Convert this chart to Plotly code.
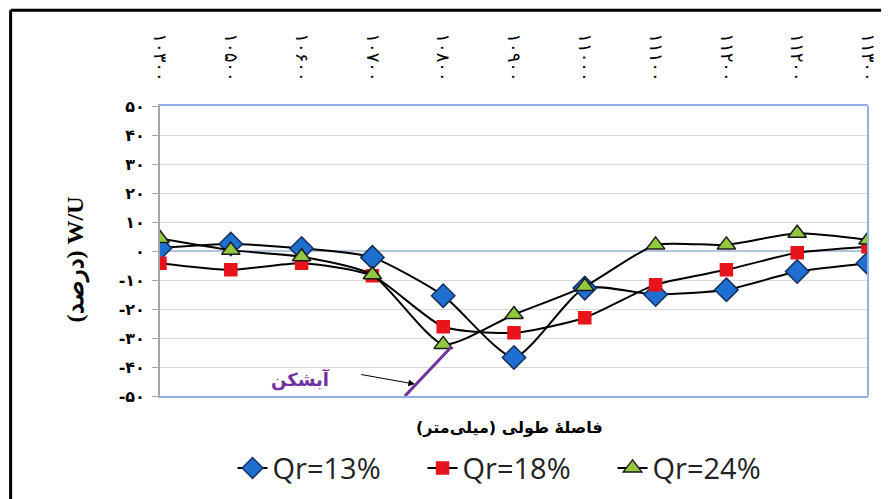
import plotly.graph_objects as go

# longitudinal distance labels (mm)
distance_labels = ["۱۰۳۰۰", "۱۰۵۰۰", "۱۰۶۰۰", "۱۰۷۰۰", "۱۰۸۰۰", "۱۰۹۰۰",
                   "۱۱۰۰۰", "۱۱۱۰۰", "۱۱۲۰۰", "۱۱۲۰۰", "۱۱۳۰۰"]

# W/U in percent for each Qr
qr13 = [1.0, 2.4, 0.9, -2.2, -15.4, -36.7, -12.8, -15.0, -13.4, -7.1, -4.2]
qr18 = [-4.2, -6.5, -4.2, -8.5, -26.1, -28.2, -23.0, -11.6, -6.5, -0.6, 1.5]
qr24 = [4.3, 0.3, -2.0, -8.2, -32.2, -21.9, -12.2, 2.1, 2.1, 6.1, 3.8]

y_ticks = [50, 40, 30, 20, 10, 0, -10, -20, -30, -40, -50]
y_ticktext = ["۵۰", "۴۰", "۳۰", "۲۰", "۱۰", "۰", "-۱۰", "-۲۰", "-۳۰", "-۴۰", "-۵۰"]

x = list(range(len(distance_labels)))

series = [
    ("Qr=13%", qr13, "diamond", 18, "#1f6fd1", "#14305e"),
    ("Qr=18%", qr18, "square", 12, "#e8141b", "#e8141b"),
    ("Qr=24%", qr24, "triangle-up", 16, "#92c83e", "#1a1a1a"),
]

fig = go.Figure()
for name, vals, sym, size, col, edge in series:
    fig.add_trace(go.Scatter(
        x=x, y=vals, name=name, mode="lines+markers",
        line=dict(color="black", width=2, shape="spline", smoothing=0.6),
        marker=dict(symbol=sym, size=size, color=col, line=dict(color=edge, width=1.5)),
    ))

# the page body has an 8px margin, so the figure is a bit smaller than the window
fig.update_layout(
    width=881, height=491,
    margin=dict(l=152, r=21, t=98, b=103),
    paper_bgcolor="white", plot_bgcolor="white",
    showlegend=True,
    legend=dict(orientation="h", xref="paper", x=0.505, xanchor="center",
                yref="container", y=0.063, yanchor="middle",
                entrywidth=145, entrywidthmode="pixels",
                font=dict(family="Open Sans, Liberation Sans", size=29, color="#222")),
    xaxis=dict(
        range=[0, 10], side="top", tickmode="array", tickvals=x, ticktext=distance_labels,
        tickangle=90, ticks="", ticklabelstandoff=16, automargin=False,
        tickfont=dict(family="DejaVu Sans", size=18, color="black"),
        showgrid=False, zeroline=False,
        showline=True, mirror=True, linecolor="#8db3e2", linewidth=2,
    ),
    yaxis=dict(
        range=[-50, 50], tickmode="array", tickvals=y_ticks, ticktext=y_ticktext,
        tickfont=dict(family="DejaVu Sans", size=16, color="black", weight="bold"),
        ticks="outside", ticklen=6, tickcolor="#a6a6a6", ticklabelstandoff=4, automargin=False,
        showgrid=True, gridcolor="#d9d9d9", gridwidth=1,
        showline=True, linecolor="#a6a6a6", linewidth=2,
        zeroline=True, zerolinecolor="#b3c6de", zerolinewidth=1.5,
    ),
    shapes=[
        # right edge of the plot area
        dict(type="line", xref="paper", yref="paper", x0=1, x1=1, y0=0, y1=1,
             line=dict(color="#8db3e2", width=2)),
        # breakwater mark
        dict(type="line", xref="x", yref="y", x0=3.46, y0=-50, x1=4.12, y1=-32.9,
             line=dict(color="#7030a0", width=3)),
        # outer frame
        dict(type="line", xref="paper", yref="paper", x0=-0.211, x1=1.1, y0=1.33, y1=1.33,
             line=dict(color="black", width=3)),
        dict(type="line", xref="paper", yref="paper", x0=-0.211, x1=-0.211, y0=1.33, y1=-0.4,
             line=dict(color="black", width=3)),
    ],
    annotations=[
        dict(text="<b>(درصد) W/U</b>", xref="paper", yref="paper", x=-0.119, y=0.47,
             xanchor="center", yanchor="middle", textangle=-90, showarrow=False,
             font=dict(family="Liberation Serif, DejaVu Serif", size=24, color="black")),
        dict(text="<b>فاصلهٔ طولی (میلی‌متر)</b>", xref="paper", yref="paper", x=0.494, y=-0.11,
             xanchor="center", yanchor="middle", showarrow=False,
             font=dict(family="DejaVu Sans", size=16, color="black")),
        dict(text="<b>آبشکن</b>", xref="x", yref="y", x=1.98, y=-44.2, showarrow=False,
             font=dict(family="DejaVu Sans", size=18, color="#7030a0")),
        dict(text="", xref="x", yref="y", x=3.6, y=-45.9, axref="x", ayref="y", ax=2.82, ay=-42.5,
             showarrow=True, arrowhead=2, arrowsize=1.3, arrowwidth=1, arrowcolor="black"),
    ],
)

fig.write_html("out.html")
